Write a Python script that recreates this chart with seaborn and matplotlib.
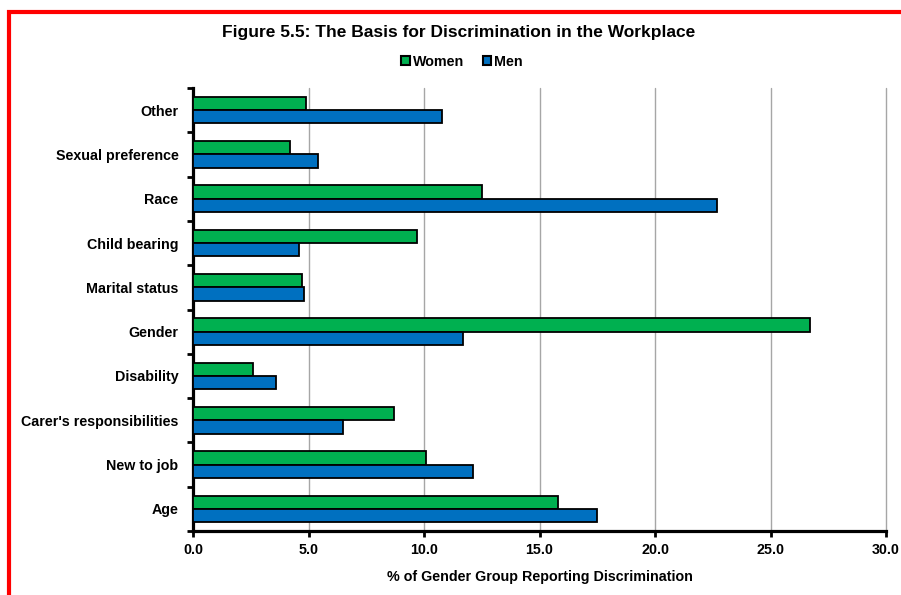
import numpy as np
import pandas as pd
import matplotlib
matplotlib.use("Agg")
import matplotlib.pyplot as plt
from matplotlib.patches import Patch, Rectangle
import seaborn as sns

categories = ['Other', 'Sexual preference', 'Race', 'Child bearing', 'Marital status',
              'Gender', 'Disability', "Carer's responsibilities", 'New to job', 'Age']
women = [4.9, 4.2, 12.5, 9.7, 4.7, 26.7, 2.6, 8.7, 10.1, 15.8]
men = [10.8, 5.4, 22.7, 4.6, 4.8, 11.7, 3.6, 6.5, 12.1, 17.5]
groups = ['Women', 'Men']
colors = ['#00B050', '#0070C0']

df = pd.DataFrame({
    'category': categories * 2,
    'group': ['Women'] * len(categories) + ['Men'] * len(categories),
    'value': women + men,
})

sns.set_style('white')
plt.rcParams['font.family'] = ['Liberation Sans', 'DejaVu Sans']
plt.rcParams['font.weight'] = 'bold'
plt.rcParams['text.color'] = 'black'
plt.rcParams['xtick.color'] = 'black'
plt.rcParams['ytick.color'] = 'black'
plt.rcParams['axes.labelcolor'] = 'black'

fig = plt.figure(figsize=(9.01, 5.95), dpi=100)
ax = fig.add_axes([193 / 901, 1 - 531 / 595, 693 / 901, 443 / 595])

sns.barplot(data=df, y='category', x='value', hue='group', order=categories,
            hue_order=groups, palette=colors, saturation=1, orient='h', width=0.6,
            edgecolor='black', linewidth=1.3, legend=False, ax=ax, zorder=3)

fs = 10.3
ax.set_xlim(0, 30)
ax.set_ylim(len(categories) - 0.5, -0.5)
ax.set_xticks(np.arange(0, 31, 5))
ax.set_xticklabels([f'{v:.1f}' for v in np.arange(0, 31, 5)], fontsize=fs, fontweight='bold')
ax.set_yticks(range(len(categories)))
ax.set_yticklabels(categories, fontsize=fs, fontweight='bold')
ax.set_yticks(np.arange(-0.5, len(categories), 1), minor=True)
ax.tick_params(axis='y', which='major', left=False, pad=7)
ax.tick_params(axis='y', which='minor', left=True, length=4, width=2, color='black')
ax.tick_params(axis='x', which='major', bottom=True, length=4, width=2, color='black', pad=5)

# vertical gridlines, the one at 30 sits on the axes edge
ax.grid(axis='x', color='#A6A6A6', linewidth=1, zorder=0)
for gl in ax.get_xgridlines():
    gl.set_clip_on(False)
ax.set_axisbelow(True)
for s in ['top', 'right']:
    ax.spines[s].set_visible(False)
for s in ['left', 'bottom']:
    ax.spines[s].set_linewidth(2.3)
    ax.spines[s].set_color('black')

ax.set_ylabel('')
ax.set_xlabel('% of Gender Group Reporting Discrimination', fontsize=fs,
              fontweight='bold', labelpad=9)

fig.text(459 / 901, 1 - 32 / 595, 'Figure 5.5: The Basis for Discrimination in the Workplace',
         ha='center', va='center', fontsize=12.5, fontweight='bold')

handles = [Patch(facecolor=c, edgecolor='black', linewidth=1.5) for c in colors]
fig.legend(handles, groups, loc='center', bbox_to_anchor=(462 / 901, 1 - 62 / 595), ncol=2,
           frameon=False, handlelength=0.6, handleheight=0.6, handletextpad=0.2,
           columnspacing=1.3, prop={'size': fs, 'weight': 'bold'})

fig.patches.append(Rectangle((9 / 901, -0.1), 1.0, 1.1 - 12 / 595, transform=fig.transFigure,
                             fill=False, edgecolor='#FF0000', linewidth=3))

fig.savefig('out.png', dpi=100, facecolor='white')
